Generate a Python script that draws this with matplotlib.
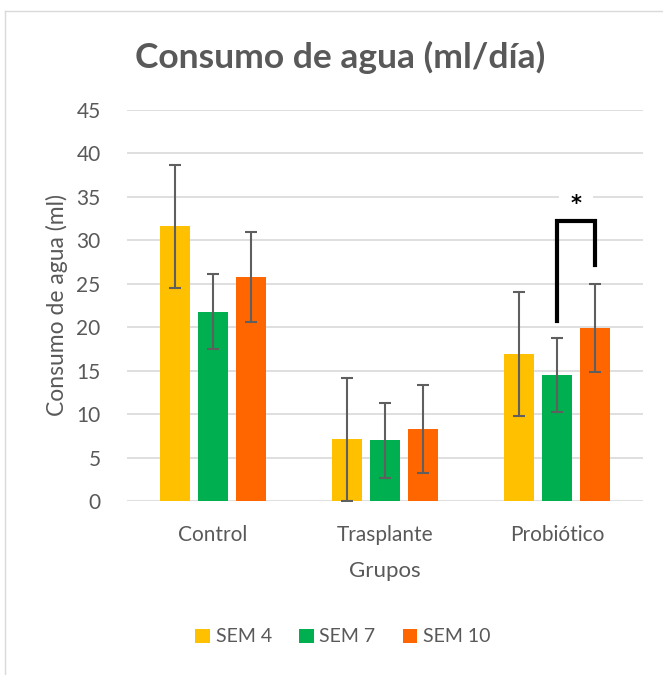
import matplotlib
matplotlib.use("Agg")
import matplotlib.pyplot as plt
import numpy as np

categories = ["Control", "Trasplante", "Probiótico"]
series_names = ["SEM 4", "SEM 7", "SEM 10"]
sem4 = [31.6, 7.1, 16.9]
sem7 = [21.8, 7.0, 14.5]
sem10 = [25.8, 8.3, 19.9]
err4 = [7.1, 7.1, 7.1]
err7 = [4.3, 4.3, 4.3]
err10 = [5.2, 5.1, 5.1]
yticks = [0, 5, 10, 15, 20, 25, 30, 35, 40, 45]
# significance bracket (Probiótico, SEM 7 vs SEM 10)
bracket_top = 32.25
bracket_left_bottom = 20.75
bracket_right_bottom = 27.2
sig_y = 34.2
sig_label = "*"

colors = ["#FFC000", "#00B050", "#FF6600"]
text_color = "#595959"
font = ["Lato", "DejaVu Sans"]

fig = plt.figure(figsize=(6.63, 6.75), dpi=100)
ax = fig.add_axes([127/663, 1-501/675, (643-127)/663, (501-110)/675])

x = np.arange(len(categories))
width = 30/172
step = 38/172
values = [sem4, sem7, sem10]
errs = [err4, err7, err10]
for i, (vals, er) in enumerate(zip(values, errs)):
    ax.bar(x + (i-1)*step, vals, width, color=colors[i], label=series_names[i], zorder=2)
    ax.errorbar(x + (i-1)*step, vals, yerr=er, fmt="none", ecolor="#5f5f5f",
                elinewidth=1.5, capsize=4.5, capthick=1.5, zorder=3)

ax.set_xlim(-0.5, 2.5)
ax.set_ylim(0, 45)
ax.set_yticks(yticks)
ax.set_yticklabels([str(t) for t in yticks])
ax.set_xticks(x)
ax.set_xticklabels(categories)
ax.yaxis.grid(True, color="#d9d9d9", linewidth=1.2, zorder=0)
ax.set_axisbelow(True)
for s in ["top", "right", "left", "bottom"]:
    ax.spines[s].set_visible(False)
ax.tick_params(axis="both", length=0, labelsize=15, labelcolor=text_color)
for lab in ax.get_xticklabels() + ax.get_yticklabels():
    lab.set_family(font)
ax.tick_params(axis="y", pad=19)
ax.tick_params(axis="x", pad=17)

ax.set_xlabel("Grupos", fontsize=16, color=text_color, family=font, labelpad=12)
ax.set_ylabel("Consumo de agua (ml)", fontsize=16.5, color=text_color, family=font, labelpad=6)

# bracket
xl = x[2] + 0*step
xr = x[2] + 1*step
ax.plot([xl, xl, xr, xr], [bracket_left_bottom, bracket_top, bracket_top, bracket_right_bottom],
        color="black", linewidth=3, solid_joinstyle="miter", zorder=6)
ax.text((xl+xr)/2, sig_y, sig_label, ha="center", va="center", fontsize=15,
        fontweight="bold", color="black", family="DejaVu Sans", zorder=5,
        bbox=dict(facecolor="white", edgecolor="none", pad=8))

fig.text(340/663, 1-57/675, "Consumo de agua (ml/día)", ha="center", va="center",
         fontsize=25.5, fontweight="bold", color=text_color, family=font)

handles, labels = ax.get_legend_handles_labels()
fig.legend(handles, labels, loc="center", bbox_to_anchor=(343/663, 1-637/675), ncol=3,
           frameon=False, prop={"family": font, "size": 14}, handlelength=0.75,
           handleheight=0.75, handletextpad=0.3, columnspacing=1.4, labelcolor=text_color)

# chart frame
fig.add_artist(plt.Line2D([5/663, 1], [1-11/675, 1-11/675], color="#d9d9d9", linewidth=1))
fig.add_artist(plt.Line2D([5/663, 5/663], [0, 1-11/675], color="#d9d9d9", linewidth=1))

fig.savefig("out.png", dpi=100)
